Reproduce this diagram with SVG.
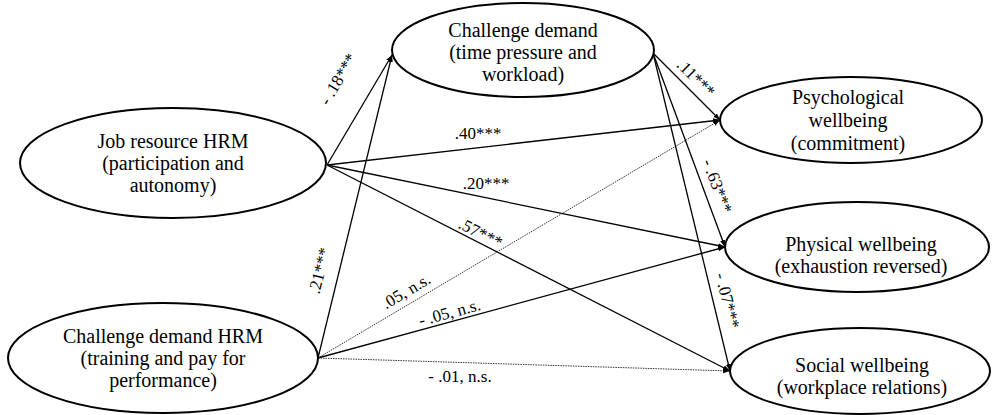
<svg xmlns="http://www.w3.org/2000/svg" width="992" height="415" viewBox="0 0 992 415">
<style>
.node{fill:#fff;stroke:#000;stroke-width:2}
.t{font-size:20px;fill:#000;text-anchor:middle}
.l{font-size:17px;fill:#000;text-anchor:middle}
.c{fill:none;stroke:#000;stroke-width:1.3}
.d{fill:none;stroke:#333;stroke-width:1;stroke-dasharray:1.5 1}
</style>
<defs>
<marker id="ah" markerWidth="8" markerHeight="8" refX="7" refY="4" orient="auto" markerUnits="userSpaceOnUse">
<path d="M0,1.5 L7,4 L0,6.5 Z" fill="#000"/>
</marker>
</defs>
<rect width="992" height="415" fill="#fff"/>
<g font-family="Times New Roman, Liberation Serif, serif">
<g id="connectors">
<line class="c" x1="327" y1="165" x2="392" y2="55" marker-end="url(#ah)"/>
<line class="c" x1="318" y1="358" x2="392" y2="55" marker-end="url(#ah)"/>
<line class="c" x1="327" y1="165" x2="720" y2="120" marker-end="url(#ah)"/>
<line class="c" x1="327" y1="165" x2="725" y2="247" marker-end="url(#ah)"/>
<line class="c" x1="327" y1="165" x2="730" y2="371" marker-end="url(#ah)"/>
<line class="d" x1="318" y1="358" x2="720" y2="120" marker-end="url(#ah)"/>
<line class="c" x1="318" y1="358" x2="725" y2="247" marker-end="url(#ah)"/>
<line class="d" x1="318" y1="358" x2="730" y2="371" marker-end="url(#ah)"/>
<line class="c" x1="653" y1="53" x2="720" y2="120" marker-end="url(#ah)"/>
<line class="c" x1="653" y1="53" x2="725" y2="247" marker-end="url(#ah)"/>
<line class="c" x1="653" y1="53" x2="730" y2="371" marker-end="url(#ah)"/>
<text class="l" transform="translate(343,82) rotate(-59.4)">- .18***</text>
<text class="l" transform="translate(325,272) rotate(-76)">.21***</text>
<text class="l" x="478" y="139">.40***</text>
<text class="l" x="486" y="189">.20***</text>
<text class="l" transform="translate(478,238) rotate(27)">.57***</text>
<text class="l" transform="translate(409,296) rotate(-30.6)">.05, n.s.</text>
<text class="l" transform="translate(451,318) rotate(-15.3)">- .05, n.s.</text>
<text class="l" x="460" y="382">- .01, n.s.</text>
<text class="l" transform="translate(692,82) rotate(45)">.11***</text>
<text class="l" transform="translate(712,188) rotate(69.6)">- .63***</text>
<text class="l" transform="translate(722,302) rotate(76)">- .07***</text>
</g>
<g id="challenge-demand">
<ellipse class="node" cx="523" cy="50" rx="131" ry="47"/>
<text class="t" x="523" y="37">Challenge demand</text>
<text class="t" x="523" y="59">(time pressure and</text>
<text class="t" x="523" y="81">workload)</text>
</g>
<g id="job-resource-hrm">
<ellipse class="node" cx="173" cy="163" rx="153" ry="55"/>
<text class="t" x="173" y="148">Job resource HRM</text>
<text class="t" x="173" y="170">(participation and</text>
<text class="t" x="173" y="192">autonomy)</text>
</g>
<g id="challenge-demand-hrm">
<ellipse class="node" cx="163" cy="358" rx="155" ry="55"/>
<text class="t" x="163" y="343">Challenge demand HRM</text>
<text class="t" x="163" y="365">(training and pay for</text>
<text class="t" x="163" y="387">performance)</text>
</g>
<g id="psychological-wellbeing">
<ellipse class="node" cx="851" cy="120" rx="131" ry="43"/>
<text class="t" x="848" y="104">Psychological</text>
<text class="t" x="848" y="127">wellbeing</text>
<text class="t" x="848" y="150">(commitment)</text>
</g>
<g id="physical-wellbeing">
<ellipse class="node" cx="857" cy="247" rx="132" ry="45"/>
<text class="t" x="861" y="251">Physical wellbeing</text>
<text class="t" x="861" y="273">(exhaustion reversed)</text>
</g>
<g id="social-wellbeing">
<ellipse class="node" cx="860" cy="371" rx="130" ry="43"/>
<text class="t" x="862" y="372">Social wellbeing</text>
<text class="t" x="862" y="394">(workplace relations)</text>
</g>
</g>
</svg>
